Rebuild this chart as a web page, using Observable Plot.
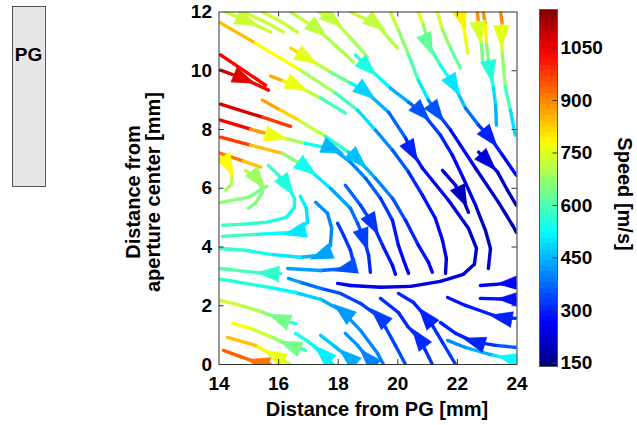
<!DOCTYPE html>
<html><head><meta charset="utf-8">
<script src="https://cdn.jsdelivr.net/npm/d3@7"></script>
<script src="https://cdn.jsdelivr.net/npm/@observablehq/plot@0.6"></script>
<style>
html,body{margin:0;padding:0;background:#fff;}
#fig{position:relative;width:637px;height:425px;font-family:"Liberation Sans",Arial,sans-serif;font-weight:bold;color:#000;overflow:hidden;background:#fff}
#fig svg{position:absolute;top:0;}
.lbl{position:absolute;font-size:20px;font-weight:bold;white-space:nowrap;transform-origin:center center;}
</style></head><body><div id="fig"></div>
<script>
// ---------- data (mm, mm, speed m/s) ----------
const xDomain = [14, 24];
const yDomain = [0, 12];
const xTicks = [14, 16, 18, 20, 22, 24];
const yTicks = [0, 2, 4, 6, 8, 10, 12];
const speedDomain = [140, 1160];
const speedTicks = [150, 300, 450, 600, 750, 900, 1050];

const streamlines = [
  [[14.22,12.0,730],[14.96,11.69,725],[15.73,11.32,720]],
  [[14.82,12.0,730],[15.49,11.69,725],[16.16,11.32,720]],
  [[15.46,12.0,730],[16.06,11.69,725],[16.63,11.32,715]],
  [[16.4,12.0,730],[17.34,11.39,710],[18.51,10.3,680]],
  [[17.34,12.0,730],[17.84,11.73,720],[18.41,11.12,700],[18.98,10.47,680]],
  [[18.41,12.0,730],[19.29,11.59,715],[19.99,10.77,690]],
  [[14.05,11.63,880],[15.22,10.94,810],[16.73,10.02,740],[17.91,9.24,640],[18.65,8.66,540],[19.25,7.98,440],[19.82,7.3,380],[20.36,6.55,330],[20.83,5.76,290],[21.26,4.98,270],[21.5,4.23,260],[21.63,3.61,250],[21.6,3.1,250]],
  [[14.05,10.54,1080],[15.56,9.51,990]],
  [[14.05,10.02,1100],[14.86,9.72,1060],[15.66,9.34,1000]],
  [[16.4,10.77,880],[16.97,10.43,750],[17.74,9.96,680],[18.41,9.58,580],[18.95,9.27,480],[19.69,8.59,400],[20.26,7.71,330],[20.49,7.23,300],[20.83,6.68,280],[21.7,5.59,240],[22.37,4.64,220],[22.64,3.95,215],[22.57,3.41,215],[22.2,3.07,220],[21.43,2.83,230],[20.43,2.66,240],[19.42,2.63,250],[18.41,2.69,260],[17.98,2.76,270]],
  [[18.58,10.54,580],[19.02,10.09,550],[19.75,9.41,480],[20.36,8.93,400],[20.83,8.56,350],[21.43,7.81,310],[21.83,7.13,290],[22.2,6.34,250],[22.61,5.42,220],[22.94,4.57,210],[23.11,3.95,210],[23.04,3.27,220]],
  [[15.73,9.82,900],[16.16,9.65,820],[16.63,9.48,760],[17.41,9.07,650],[18.24,8.56,540]],
  [[15.46,9.0,900],[16.06,8.66,850],[16.67,8.32,790],[17.57,7.77,650],[18.34,7.23,500],[18.68,6.96,460],[19.25,6.34,420],[19.82,5.66,370],[20.26,4.91,320],[20.69,4.06,290],[21.03,3.48,270],[21.16,3.14,260]],
  [[14.05,8.86,1150],[15.46,8.42,1000],[16.4,8.11,950]],
  [[14.05,8.32,1080],[15.06,8.01,1000],[15.93,7.77,760],[16.9,7.53,620],[17.84,7.33,450],[18.41,6.89,410],[18.92,6.34,380],[19.42,5.66,340],[19.82,4.91,300],[20.02,4.06,280],[20.22,3.48,270],[20.36,3.1,260]],
  [[14.05,7.74,1050],[15.06,7.47,900],[16.13,7.19,780],[16.97,6.68,540],[17.74,6.0,460],[18.41,5.32,400],[18.65,4.81,360],[18.88,4.23,330],[19.02,3.72,310],[19.08,3.14,300]],
  [[18.24,6.1,380],[18.75,5.42,350],[19.18,4.74,320],[19.52,3.99,300],[19.82,3.38,280],[19.92,3.07,270]],
  [[19.75,12.0,740],[20.02,11.39,700],[20.36,10.54,640],[20.69,9.68,560],[21.03,9.0,450],[21.33,8.56,350],[21.77,7.98,300],[22.61,6.68,240],[23.38,5.52,210],[23.85,4.74,200],[23.98,4.5,200]],
  [[20.69,12.0,790],[20.86,11.56,720],[21.03,10.88,620],[21.43,10.19,560],[21.9,9.48,500],[22.27,8.73,420],[22.71,8.15,340],[23.11,7.71,300],[23.51,7.13,280],[23.98,6.44,260]],
  [[22.71,7.23,240],[23.04,6.89,230],[23.35,6.55,220],[23.68,5.93,210],[23.98,5.42,200]],
  [[21.33,12.0,780],[21.5,11.39,700],[21.77,10.77,640],[22.1,10.09,600]],
  [[22.0,12.0,800],[22.17,11.73,790],[22.27,11.12,760],[22.34,10.6,740]],
  [[22.67,12.0,900],[22.71,11.56,880],[22.74,11.29,740],[22.81,10.88,660],[22.84,10.36,630]],
  [[22.87,12.0,900],[22.94,11.56,880],[22.98,10.88,700],[23.04,10.36,620],[23.11,9.96,560],[23.21,9.41,520],[23.28,8.83,470],[23.31,8.15,420]],
  [[23.45,12.0,920],[23.51,11.56,880],[23.48,11.15,750],[23.51,10.54,700],[23.61,9.44,640],[23.78,8.66,540],[23.94,7.81,450]],
  [[21.5,6.61,230],[21.94,6.1,210],[22.17,5.69,200],[22.37,5.18,200]],
  [[14.12,7.06,800],[14.32,6.75,780],[14.45,6.41,740],[14.42,6.14,700],[14.22,5.93,680]],
  [[14.05,7.19,950],[14.82,6.92,880],[15.39,6.72,800]],
  [[14.89,6.61,720],[15.33,6.27,680],[15.46,5.86,660],[15.22,5.49,650],[14.99,5.32,640]],
  [[15.66,6.78,600],[16.0,6.44,570],[16.3,6.07,550],[16.53,5.66,540],[16.53,5.35,540],[16.26,5.01,545],[15.56,4.84,560],[14.72,4.77,580],[14.12,4.74,600]],
  [[15.6,6.07,640],[14.99,5.69,650],[14.05,5.52,670]],
  [[16.73,5.73,520],[16.93,5.32,500],[16.97,4.84,490],[16.53,4.5,500],[15.22,4.43,560],[14.12,4.36,610]],
  [[17.24,5.52,420],[17.64,5.15,400],[17.78,4.64,400],[17.74,4.06,410],[17.41,3.72,430],[16.73,3.65,470],[15.73,3.75,530],[14.89,3.89,560],[14.05,3.95,590]],
  [[17.98,4.81,330],[18.18,4.4,320],[18.41,3.89,320],[18.51,3.48,330],[18.24,3.27,350],[17.41,3.2,400],[16.3,3.27,450]],
  [[16.06,3.1,550],[15.63,3.1,570],[14.89,3.17,590],[14.05,3.27,620]],
  [[19.52,0,400],[19.32,0.38,390],[18.75,1.16,410],[18.14,1.81,420],[17.41,2.22,450],[16.57,2.45,500],[15.66,2.63,540],[14.32,2.86,570],[14.05,2.9,580]],
  [[20.26,0,350],[19.92,0.65,340],[19.59,1.26,330],[19.35,1.64,330],[18.75,2.08,330],[18.08,2.42,340],[17.41,2.59,360],[16.73,2.8,400],[16.33,2.93,440]],
  [[21.94,0,330],[21.5,0.75,320],[21.16,1.33,310],[20.93,1.64,300],[20.53,2.11,300],[20.02,2.42,310]],
  [[21.16,0,320],[20.93,0.48,320],[20.69,0.92,310],[20.33,1.3,310],[20.02,1.77,310],[19.42,2.25,320]],
  [[23.98,1.57,300],[23.45,1.6,300],[22.94,1.77,300],[22.27,2.01,290],[21.67,2.28,280]],
  [[23.98,2.76,270],[23.71,2.76,270],[22.77,2.69,260]],
  [[23.98,2.22,280],[23.71,2.22,280],[22.77,2.25,280]],
  [[23.98,0.58,380],[23.28,0.65,330],[22.54,0.78,300],[21.94,1.06,300],[21.43,1.43,300]],
  [[23.98,0.14,540],[23.71,0.2,520],[23.11,0.34,470],[22.27,0.58,420],[21.67,0.82,400]],
  [[16.57,1.4,540],[16.23,1.47,600],[16.0,1.57,640],[15.39,1.81,680],[14.72,2.01,720],[14.05,2.18,740]],
  [[16.9,0.48,570],[16.67,0.58,600],[16.37,0.65,640],[15.73,0.95,700],[15.06,1.23,760],[14.45,1.4,790]],
  [[16.4,0,720],[16.13,0.14,730],[15.83,0.31,760],[15.22,0.65,820],[14.29,0.92,860]],
  [[15.73,0,900],[15.29,0.07,920],[14.72,0.27,940],[14.15,0.48,940]],
  [[17.81,0,500],[17.47,0.38,510],[17.0,0.78,530],[16.57,1.06,550]],
  [[18.58,0,440],[18.31,0.27,440],[17.84,0.65,460],[17.41,0.99,480]],
  [[19.25,0,400],[18.98,0.24,400],[18.65,0.65,410],[18.24,1.06,420]]
];
// vertex indices (per streamline) where a flow arrow sits
const arrowVertices = [
  [1],[],[],[1],[1],[1],[],[],[1],[1,4,7],[1,4],[2],[5],[],[2,4],[3,7],[2],[5],[2,4,7],[1],[],[1],[2],[4],[2],[2],
  [1],[],[1],[2],[],[3],[4],[4],[1],[3],[3],[3],[2],[1],[1],[1],[2],[1],[2],[2],[2],[1],[1],[1],[1]
];

// ---------- layout ----------
const W = 530, H = 425, ML = 218.5, MR = 13.5, MT = 11.5, MB = 61;
const kx = (W - ML - MR) / (xDomain[1] - xDomain[0]);
const ky = (H - MT - MB) / (yDomain[1] - yDomain[0]);

function jet(t) {
  const c = v => Math.round(255 * Math.max(0, Math.min(1, v)));
  return `rgb(${c(1.5 - Math.abs(4 * t - 3))},${c(1.5 - Math.abs(4 * t - 2))},${c(1.5 - Math.abs(4 * t - 1))})`;
}
const colorOpts = {type: "linear", domain: speedDomain, interpolate: jet};

const segments = [];
streamlines.forEach(pts => {
  for (let i = 0; i < pts.length - 1; i++) {
    const [x1, y1, s1] = pts[i], [x2, y2, s2] = pts[i + 1];
    segments.push({x1, y1, x2, y2, speed: (s1 + s2) / 2});
  }
});

const arrowTris = [];
const AL = 23, AW = 16;
arrowVertices.forEach((vs, id) => vs.forEach(v => {
  const pts = streamlines[id];
  const p = pts[v], a = pts[Math.max(v - 1, 0)], b = pts[Math.min(v + 1, pts.length - 1)];
  let dx = (b[0] - a[0]) * kx, dy = -(b[1] - a[1]) * ky;
  const n = Math.hypot(dx, dy); dx /= n; dy /= n;
  const tip = [dx * AL * 0.5, dy * AL * 0.5];
  const bc = [-dx * AL * 0.5, -dy * AL * 0.5];
  const c1 = [bc[0] - dy * AW / 2, bc[1] + dx * AW / 2];
  const c2 = [bc[0] + dy * AW / 2, bc[1] - dx * AW / 2];
  const key = id + "-" + v;
  [tip, c1, c2].forEach(([ox, oy]) => arrowTris.push({key, x: p[0] + ox / kx, y: p[1] - oy / ky, speed: p[2]}));
}));

const fontStyle = {fontFamily: "Liberation Sans, Arial, sans-serif", fontSize: "19px", fontWeight: "bold", color: "#000", background: "transparent", overflow: "visible"};

const main = Plot.plot({
  width: W, height: H, marginLeft: ML, marginRight: MR, marginTop: MT, marginBottom: MB,
  style: fontStyle,
  x: {domain: xDomain, ticks: xTicks, tickSize: 0, tickPadding: 12, label: null, tickFormat: d => String(d)},
  y: {domain: yDomain, ticks: yTicks, tickSize: 0, tickPadding: 7, label: null, tickFormat: d => String(d)},
  color: colorOpts,
  marks: [
    Plot.link(segments, {x1: "x1", y1: "y1", x2: "x2", y2: "y2", stroke: "speed", strokeWidth: 3.4, strokeLinecap: "round", clip: true}),
    Plot.line(arrowTris, {x: "x", y: "y", z: "key", fill: "speed", stroke: "speed", strokeWidth: 0.6, clip: true}),
    Plot.ruleX(xTicks.slice(1, -1), {y1: yDomain[0], y2: yDomain[0] + 5 / ky, stroke: "#333"}),
    Plot.ruleX(xTicks.slice(1, -1), {y1: yDomain[1] - 5 / ky, y2: yDomain[1], stroke: "#333"}),
    Plot.ruleY(yTicks.slice(1, -1), {x1: xDomain[0], x2: xDomain[0] + 5 / kx, stroke: "#333"}),
    Plot.ruleY(yTicks.slice(1, -1), {x1: xDomain[1] - 5 / kx, x2: xDomain[1], stroke: "#333"}),
    Plot.frame({stroke: "#333"})
  ]
});
main.style.left = "0px";

const nBands = 64;
const bands = d3.range(nBands).map(i => ({
  v1: speedDomain[0] + i * (speedDomain[1] - speedDomain[0]) / nBands,
  v2: speedDomain[0] + (i + 1) * (speedDomain[1] - speedDomain[0]) / nBands
}));
const cbar = Plot.plot({
  width: 107, height: H, marginLeft: 9, marginRight: 80, marginTop: 9, marginBottom: 59,
  style: fontStyle,
  x: {domain: [0, 1], axis: null},
  y: {domain: speedDomain, ticks: speedTicks, tickSize: 0, tickPadding: 3, axis: "right", label: null, tickFormat: d => String(d)},
  color: colorOpts,
  marks: [
    Plot.rect(bands, {x1: 0, x2: 1, y1: "v1", y2: "v2", fill: d => (d.v1 + d.v2) / 2, shapeRendering: "crispEdges"}),
    Plot.ruleY(speedTicks, {x1: 0.75, x2: 1, stroke: "#333"}),
    Plot.frame({stroke: "#555"})
  ]
});
cbar.style.left = "530px";

const fig = document.getElementById("fig");
fig.appendChild(main);
fig.appendChild(cbar);

function label(html, cx, cy, rot, extra) {
  const d = document.createElement("div");
  d.className = "lbl";
  d.innerHTML = html;
  d.style.left = cx + "px";
  d.style.top = cy + "px";
  d.style.transform = `translate(-50%,-50%) rotate(${rot}deg)`;
  if (extra) Object.assign(d.style, extra);
  fig.appendChild(d);
}
label("Distance from PG [mm]", 377, 409, 0);
label("Distance from<br>aperture center [mm]", 143, 192, -90, {textAlign: "center", lineHeight: "20px"});
label("Speed [m/s]", 624, 194, 90);

const pg = document.createElement("div");
Object.assign(pg.style, {position: "absolute", left: "12px", top: "6px", width: "32px", height: "179px", background: "#e6e6e6", border: "1px solid #555"});
fig.appendChild(pg);
label("PG", 28.5, 55, 0, {fontSize: "19px"});
</script></body></html>
